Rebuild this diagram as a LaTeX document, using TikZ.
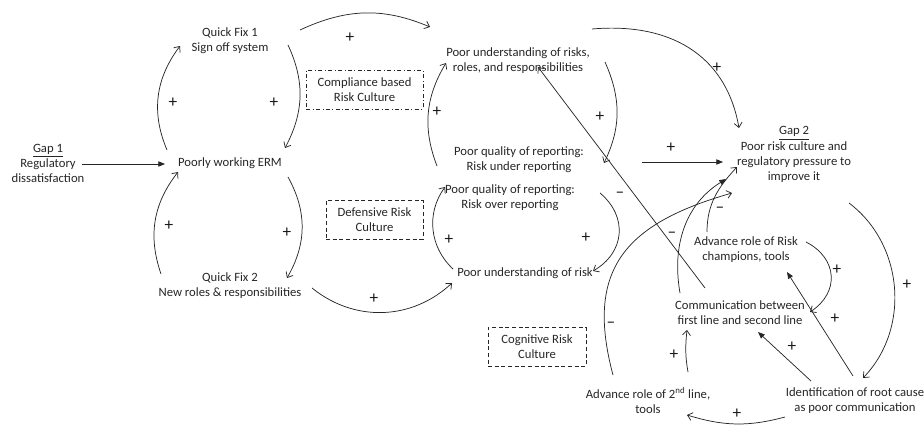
\documentclass[tikz,border=0pt]{standalone}
\usepackage{fontspec}
\setmainfont{Carlito}
\usetikzlibrary{arrows.meta}

\begin{document}
\begin{tikzpicture}[
  x=0.75pt, y=0.75pt,
  var/.style={align=center, font=\fontsize{9.5}{11.3}\selectfont,
              text=black!85, inner sep=2pt},
  culture/.style={draw=black!85, thin, align=center, text=black!85,
                  font=\fontsize{9.5}{11.3}\selectfont, minimum height=29pt},
  sgn/.style={font=\fontsize{13}{15}\selectfont, text=black!90, inner sep=0pt},
  link/.style={-{Straight Barb[length=3.5pt,width=6pt]}, black!85, line width=0.55pt},
  flink/.style={-{Triangle[length=5pt,width=4pt]}, black!85, line width=0.55pt},
]
  \useasboundingbox (0,0) rectangle (924,-425);

  % Variables
  \node[var] (gap1)   at (48,-163)    {\underline{Gap 1}\\Regulatory\\dissatisfaction};
  \node[var] (erm)    at (230,-163)   {Poorly working ERM};
  \node[var] (qf1)    at (230,-40.5)  {Quick Fix 1\\Sign off system};
  \node[var] (qf2)    at (230,-285.5) {Quick Fix 2\\New roles \& responsibilities};
  \node[var] (risks)  at (518,-60.5)  {Poor understanding of risks,\\roles, and responsibilities};
  \node[var] (under)  at (519,-160)   {Poor quality of reporting:\\Risk under reporting};
  \node[var] (over)   at (510,-197.5) {Poor quality of reporting:\\Risk over reporting};
  \node[var] (risk)   at (525,-273)   {Poor understanding of risk};
  \node[var] (gap2)   at (794,-154.5) {\underline{Gap 2}\\Poor risk culture and\\regulatory pressure to\\improve it};
  \node[var] (champ)  at (746,-249.5) {Advance role of Risk\\champions, tools};
  \node[var] (comm)   at (740,-312.5) {Communication between\\first line and second line};
  \node[var] (second) at (648,-400.5) {Advance role of 2\textsuperscript{nd} line,\\tools};
  \node[var] (ident)  at (855,-400.5) {Identification of root cause\\as poor communication};

  % Risk culture boxes
  \node[culture,dash dot,minimum width=87.75pt] (comp) at (364.5,-89.5) {Compliance based\\Risk Culture};
  \node[culture,densely dashed,minimum width=72.75pt] (def) at (374.5,-219.5) {Defensive Risk\\Culture};
  \node[culture,densely dashed,minimum width=73.5pt] (cog) at (537,-347) {Cognitive Risk\\Culture};

  % Quick fix loops
  \draw[flink] ([shift={(34,-1)}]gap1.center) -- ([shift={(-65,-1)}]erm.center);
  \draw[link] ([shift={(-63,13)}]erm.center) to[out=113,in=-127] ([shift={(-50,-5.5)}]qf1.center);
  \draw[link] ([shift={(58,-4.5)}]qf1.center) to[out=-65,in=62] ([shift={(55,15)}]erm.center);
  \draw[link] ([shift={(-69,11.5)}]qf2.center) to[out=109,in=-128] ([shift={(-52,-9)}]erm.center);
  \draw[link] ([shift={(58,-14)}]erm.center) to[out=-61,in=60] ([shift={(57,7.5)}]qf2.center);
  \draw[link] ([shift={(70,10.5)}]qf1.center) to[out=25,in=157] ([shift={(-88,33.5)}]risks.center);
  \draw[link] ([shift={(82,-2.5)}]qf2.center) to[out=-39,in=-137] ([shift={(-73,-10)}]risk.center);

  % Reporting loops
  \draw[link] ([shift={(-82,-6)}]under.center) to[out=111,in=-121] ([shift={(-72,-2.5)}]risks.center);
  \draw[link] ([shift={(87,-1.5)}]risks.center) to[out=-66,in=64] ([shift={(85,-3)}]under.center);
  \draw[link] ([shift={(-72,4)}]risk.center) to[out=137,in=-126] ([shift={(-65,10.5)}]over.center);
  \draw[link] ([shift={(90,4.5)}]over.center) to[out=-40,in=30,looseness=1.2] ([shift={(68,2)}]risk.center);
  \draw[flink] ([shift={(123,-2)}]under.center) -- ([shift={(-71,-7.5)}]gap2.center);
  \draw[link] ([shift={(74,31.5)}]risks.center) to[out=5,in=100,looseness=1.1] ([shift={(-55,26.5)}]gap2.center);

  % Cognitive loops
  \draw[link] ([shift={(-35,24.5)}]comm.center) -- ([shift={(20,-6.5)}]risks.center);
  \draw[link] ([shift={(60,7.5)}]champ.center) to[out=-27,in=33,looseness=1.3] ([shift={(70,0.5)}]comm.center);
  \draw[link] ([shift={(55,-48.5)}]gap2.center) to[out=-37,in=46] ([shift={(8,22.5)}]ident.center);
  \draw[flink] ([shift={(-2,24.5)}]ident.center) -- ([shift={(41,-22.5)}]champ.center);
  \draw[flink] ([shift={(-44,19.5)}]ident.center) -- ([shift={(18,-19.5)}]comm.center);
  \draw[link] ([shift={(-70,-16.5)}]ident.center) to[out=-165,in=-17] ([shift={(39,-14.5)}]second.center);
  \draw[link] ([shift={(40,28.5)}]second.center) to[out=100,in=-96] ([shift={(-53,-17.5)}]comm.center);
  \draw[link] ([shift={(-35,25.5)}]second.center) to[out=105,in=-164,looseness=1.3] ([shift={(-62,-38.5)}]gap2.center);
  \draw[flink] ([shift={(-60,19.5)}]comm.center) to[out=100,in=-148] ([shift={(-68,-24.5)}]gap2.center);
  \draw[link] ([shift={(-39,17.5)}]champ.center) to[out=90,in=-133] ([shift={(-57,-12.5)}]gap2.center);

  % Polarity signs
  \node[sgn] (s1)  at (173,-103) {+};
  \node[sgn] (s2)  at (274,-103) {+};
  \node[sgn] (s3)  at (169,-226) {+};
  \node[sgn] (s4)  at (287,-233) {+};
  \node[sgn] (s5)  at (350,-38)  {+};
  \node[sgn] (s6)  at (374,-299) {+};
  \node[sgn] (s7)  at (437,-112) {+};
  \node[sgn] (s8)  at (600,-117) {+};
  \node[sgn] (s9)  at (449,-240) {+};
  \node[sgn] (s10) at (586,-238) {+};
  \node[sgn] (s11) at (671,-148) {+};
  \node[sgn] (s12) at (717,-68)  {+};
  \node[sgn] (s13) at (620,-195) {–};
  \node[sgn] (s14) at (837,-270) {+};
  \node[sgn] (s15) at (907,-285) {+};
  \node[sgn] (s16) at (835,-319) {+};
  \node[sgn] (s17) at (792,-347) {+};
  \node[sgn] (s18) at (737,-414) {+};
  \node[sgn] (s19) at (674,-355) {+};
  \node[sgn] (s20) at (611,-325) {–};
  \node[sgn] (s21) at (672,-235) {–};
  \node[sgn] (s22) at (720,-210) {–};
\end{tikzpicture}
\end{document}
